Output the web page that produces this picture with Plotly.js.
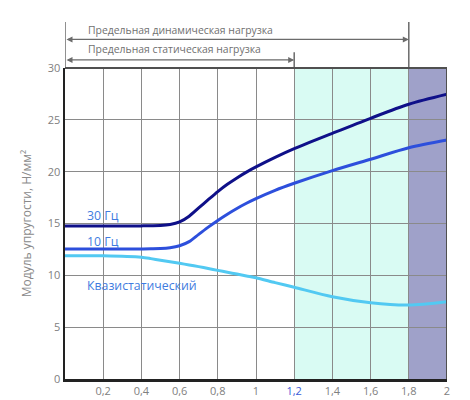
<!DOCTYPE html>
<html><head><meta charset="utf-8">
<script src="https://cdn.plot.ly/plotly-3.0.1.min.js"></script>
<style>html,body{margin:0;padding:0;background:#fff}#c{width:470px;height:400px}</style>
</head><body><div id="c"></div>
<script>
const xs = [0, 0.2, 0.4, 0.45, 0.5, 0.55, 0.6, 0.65, 0.7, 0.75, 0.8, 0.85, 0.9, 0.95, 1.0, 1.1, 1.2, 1.4, 1.6, 1.8, 2.0];
const hz30 = [14.76, 14.76, 14.77, 14.78, 14.8, 14.9, 15.15, 15.7, 16.5, 17.3, 18.08, 18.78, 19.4, 19.96, 20.46, 21.38, 22.22, 23.7, 25.15, 26.5, 27.46];
const hz10 = [12.54, 12.54, 12.55, 12.56, 12.58, 12.66, 12.85, 13.25, 13.95, 14.65, 15.3, 15.9, 16.45, 16.95, 17.4, 18.2, 18.88, 20.1, 21.2, 22.3, 23.05];
const quasi = [11.9, 11.88, 11.74, 11.61, 11.46, 11.31, 11.16, 11.0, 10.84, 10.66, 10.48, 10.3, 10.12, 9.94, 9.77, 9.3, 8.85, 7.94, 7.36, 7.14, 7.46];
const seriesNames = ['30 Гц', '10 Гц', 'Квазистатический'];
const labelY = [15.8, 13.25, 9.05];
const xTickVals = [0.2, 0.4, 0.6, 0.8, 1, 1.2, 1.4, 1.6, 1.8, 2];
const xTickText = ['0,2', '0,4', '0,6', '0,8', '1', '<span style="color:#3a5ad8">1,2</span>', '1,4', '1,6', '1,8', '2'];
const yTickVals = [0, 5, 10, 15, 20, 25, 30];
const staticLimit = 1.2, dynamicLimit = 1.8, xMax = 2;
const topTexts = ['Предельная динамическая нагрузка', 'Предельная статическая нагрузка'];

const colors = ['#0f1089', '#2d4fdc', '#52c9f2'];
const data = [hz30, hz10, quasi].map((v, i) => ({
  x: xs, y: v, type: 'scatter', mode: 'lines', name: seriesNames[i],
  line: {color: colors[i], width: 3, shape: 'spline', smoothing: 0.8},
  hoverinfo: 'skip'
}));

const gray = '#6b6b6b';
const shapes = [
  {type: 'rect', xref: 'x', yref: 'paper', x0: staticLimit, x1: dynamicLimit, y0: 0, y1: 1, fillcolor: '#d9fbf3', line: {width: 0}, layer: 'below'},
  {type: 'rect', xref: 'x', yref: 'paper', x0: dynamicLimit, x1: xMax, y0: 0, y1: 1, fillcolor: '#9fa1c9', line: {width: 0}, layer: 'below'},
  {type: 'line', xref: 'x', yref: 'paper', x0: 0, x1: 0, y0: 1, y1: 1.148, line: {color: gray, width: 1.5}},
  {type: 'line', xref: 'x', yref: 'paper', x0: staticLimit, x1: staticLimit, y0: 1, y1: 1.051, line: {color: gray, width: 1.5}},
  {type: 'line', xref: 'x', yref: 'paper', x0: dynamicLimit, x1: dynamicLimit, y0: 1, y1: 1.148, line: {color: gray, width: 1.5}},
  {type: 'line', xref: 'x', yref: 'paper', x0: 0, x1: xMax, y0: 1, y1: 1, line: {color: '#505050', width: 2}},
  {type: 'line', xref: 'x', yref: 'paper', x0: xMax, x1: xMax, y0: 0, y1: 1, line: {color: '#505050', width: 2}}
];

const annotations = [
  {xref: 'x', yref: 'paper', x: dynamicLimit, y: 1.092, axref: 'x', ayref: 'pixel', ax: 0, ay: 0,
   showarrow: true, arrowside: 'end+start', arrowhead: 2, arrowsize: 1, arrowwidth: 1.2, arrowcolor: gray, text: ''},
  {xref: 'x', yref: 'paper', x: staticLimit, y: 1.026, axref: 'x', ayref: 'pixel', ax: 0, ay: 0,
   showarrow: true, arrowside: 'end+start', arrowhead: 2, arrowsize: 1, arrowwidth: 1.2, arrowcolor: gray, text: ''},
  {xref: 'x', yref: 'paper', x: 0.112, y: 1.123, xanchor: 'left', yanchor: 'middle', showarrow: false,
   text: topTexts[0], font: {size: 10.4, color: '#707070'}},
  {xref: 'x', yref: 'paper', x: 0.112, y: 1.062, xanchor: 'left', yanchor: 'middle', showarrow: false,
   text: topTexts[1], font: {size: 10.4, color: '#707070'}}
];
seriesNames.forEach((n, i) => annotations.push({
  xref: 'x', yref: 'y', x: 0.105, y: labelY[i], xanchor: 'left', yanchor: 'middle', showarrow: false,
  text: n, font: {size: 12.3, color: '#3f7ce0'}
}));

const layout = {
  width: 470, height: 400,
  margin: {l: 65, r: 23, t: 68, b: 21},
  paper_bgcolor: '#fff', plot_bgcolor: '#fff',
  font: {family: 'Open Sans, Noto Sans, sans-serif', color: '#808080'},
  showlegend: false,
  xaxis: {range: [0, xMax], tickvals: xTickVals, ticktext: xTickText, showgrid: true, gridcolor: '#8a8a8a', gridwidth: 1,
    zeroline: false, showline: true, linecolor: '#222', linewidth: 2.5, ticks: '', tickfont: {size: 11, color: '#808080'}, fixedrange: true},
  yaxis: {range: [0, 30], tickvals: yTickVals, showgrid: true, gridcolor: '#8a8a8a', gridwidth: 1,
    zeroline: false, showline: true, linecolor: '#222', linewidth: 2.5, ticks: '', tickfont: {size: 11, color: '#808080'},
    title: {text: 'Модуль упругости, Н/мм²', font: {size: 12, color: '#8a8a8a'}, standoff: 14}, fixedrange: true},
  shapes: shapes, annotations: annotations
};
Plotly.newPlot('c', data, layout, {displayModeBar: false, staticPlot: true});
</script></body></html>
